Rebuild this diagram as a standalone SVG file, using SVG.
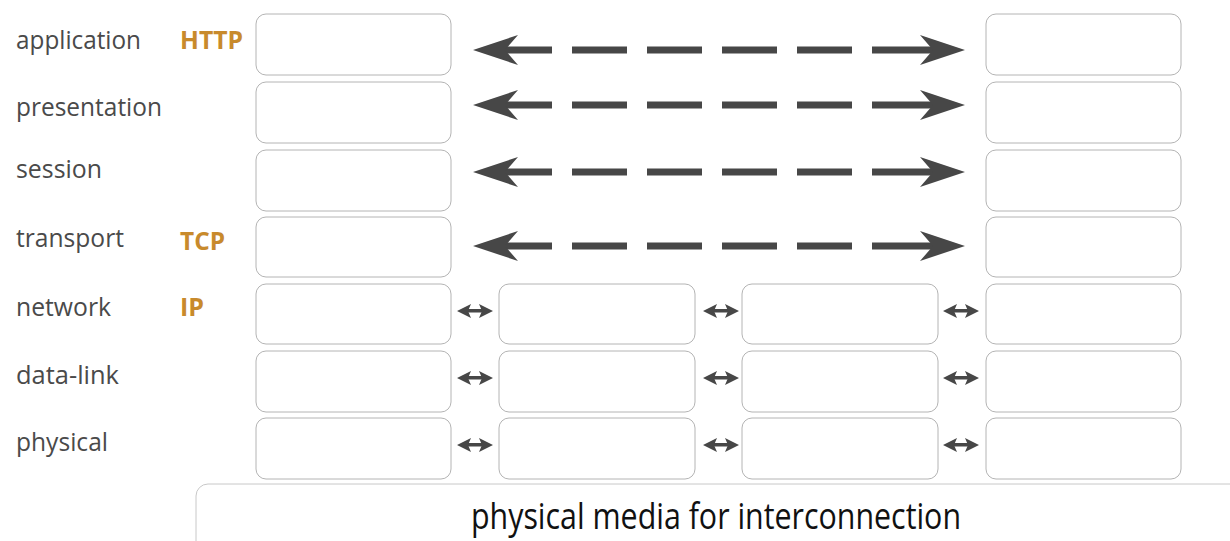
<svg xmlns="http://www.w3.org/2000/svg" xmlns:xlink="http://www.w3.org/1999/xlink" width="1230" height="541" viewBox="0 0 1230 541">
  <style>
    .box { fill: #ffffff; stroke: #b4b4b4; stroke-width: 1; }
    .media { fill: #ffffff; stroke: #c8c8c8; stroke-width: 1; }
    .layer { font-family: "Open Sans", "Noto Sans", "DejaVu Sans", sans-serif; font-size: 26px; fill: #4a4a4a; }
    .proto { font-family: "Open Sans", "Noto Sans", "DejaVu Sans", sans-serif; font-size: 25px; font-weight: bold; fill: #c88a2c; }
    .medialabel { font-family: "Open Sans", "Noto Sans", "DejaVu Sans", sans-serif; font-size: 36px; fill: #111111; }
    .dash { stroke: #474747; stroke-width: 7; fill: none; stroke-dasharray: 61 20 55 20 55 20 55 20 55 20 61 20; }
    .head { fill: #474747; }
  </style>
  <defs>
    <!-- large arrowhead pointing left, tip at origin -->
    <path id="bigHead" d="M0,0 L45,-15 L32,0 L45,15 Z"/>
    <!-- small double-headed link arrow, centred at origin -->
    <g id="link">
      <path d="M-18,0 L-4,-7 L-7,0 L-4,7 Z"/>
      <path d="M18,0 L4,-7 L7,0 L4,7 Z"/>
      <rect x="-9" y="-2" width="18" height="3.5"/>
    </g>
  </defs>

  <rect width="1230" height="541" fill="#ffffff"/>

  <!-- layer names -->
  <g id="labels">
    <text class="layer" x="16" y="49" textLength="125" lengthAdjust="spacingAndGlyphs">application</text>
    <text class="layer" x="16" y="116" textLength="146" lengthAdjust="spacingAndGlyphs">presentation</text>
    <text class="layer" x="16" y="178" textLength="86" lengthAdjust="spacingAndGlyphs">session</text>
    <text class="layer" x="16" y="247" textLength="108" lengthAdjust="spacingAndGlyphs">transport</text>
    <text class="layer" x="16" y="316" textLength="95" lengthAdjust="spacingAndGlyphs">network</text>
    <text class="layer" x="16" y="384" textLength="103" lengthAdjust="spacingAndGlyphs">data-link</text>
    <text class="layer" x="16" y="451" textLength="92" lengthAdjust="spacingAndGlyphs">physical</text>
    <text class="proto" x="180" y="49" textLength="63" lengthAdjust="spacingAndGlyphs">HTTP</text>
    <text class="proto" x="180" y="250" textLength="45" lengthAdjust="spacingAndGlyphs">TCP</text>
    <text class="proto" x="180" y="316" textLength="24" lengthAdjust="spacingAndGlyphs">IP</text>
  </g>

  <!-- end host A stack -->
  <g id="hostA">
    <rect class="box" x="256" y="14" width="195" height="61" rx="10"/>
    <rect class="box" x="256" y="82" width="195" height="61" rx="10"/>
    <rect class="box" x="256" y="150" width="195" height="61" rx="10"/>
    <rect class="box" x="256" y="217" width="195" height="60" rx="10"/>
    <rect class="box" x="256" y="284" width="195" height="60" rx="10"/>
    <rect class="box" x="256" y="351" width="195" height="61" rx="10"/>
    <rect class="box" x="256" y="418" width="195" height="61" rx="10"/>
  </g>

  <!-- intermediate node 1 -->
  <g id="router1">
    <rect class="box" x="499" y="284" width="196" height="60" rx="10"/>
    <rect class="box" x="499" y="351" width="196" height="61" rx="10"/>
    <rect class="box" x="499" y="418" width="196" height="61" rx="10"/>
  </g>

  <!-- intermediate node 2 -->
  <g id="router2">
    <rect class="box" x="742" y="284" width="196" height="60" rx="10"/>
    <rect class="box" x="742" y="351" width="196" height="61" rx="10"/>
    <rect class="box" x="742" y="418" width="196" height="61" rx="10"/>
  </g>

  <!-- end host B stack -->
  <g id="hostB">
    <rect class="box" x="986" y="14" width="195" height="61" rx="10"/>
    <rect class="box" x="986" y="82" width="195" height="61" rx="10"/>
    <rect class="box" x="986" y="150" width="195" height="61" rx="10"/>
    <rect class="box" x="986" y="217" width="195" height="60" rx="10"/>
    <rect class="box" x="986" y="284" width="195" height="60" rx="10"/>
    <rect class="box" x="986" y="351" width="195" height="61" rx="10"/>
    <rect class="box" x="986" y="418" width="195" height="61" rx="10"/>
  </g>

  <!-- shared medium -->
  <g id="media">
    <rect class="media" x="196" y="484" width="1060" height="80" rx="12"/>
    <text class="medialabel" x="471" y="529" textLength="490" lengthAdjust="spacingAndGlyphs">physical media for interconnection</text>
  </g>

  <g id="connectors">
    <!-- peer-to-peer (logical) links between end hosts -->
    <g>
      <line class="dash" x1="491" y1="50" x2="933" y2="50"/>
      <use xlink:href="#bigHead" class="head" transform="translate(473,50)"/>
      <use xlink:href="#bigHead" class="head" transform="translate(965,50) scale(-1,1)"/>
    </g>
    <g>
      <line class="dash" x1="491" y1="105" x2="933" y2="105"/>
      <use xlink:href="#bigHead" class="head" transform="translate(473,105)"/>
      <use xlink:href="#bigHead" class="head" transform="translate(965,105) scale(-1,1)"/>
    </g>
    <g>
      <line class="dash" x1="491" y1="172" x2="933" y2="172"/>
      <use xlink:href="#bigHead" class="head" transform="translate(473,172)"/>
      <use xlink:href="#bigHead" class="head" transform="translate(965,172) scale(-1,1)"/>
    </g>
    <g>
      <line class="dash" x1="491" y1="246" x2="933" y2="246"/>
      <use xlink:href="#bigHead" class="head" transform="translate(473,246)"/>
      <use xlink:href="#bigHead" class="head" transform="translate(965,246) scale(-1,1)"/>
    </g>

    <!-- hop-by-hop links -->
    <g fill="#474747">
      <use xlink:href="#link" transform="translate(475,311)"/>
      <use xlink:href="#link" transform="translate(721,311)"/>
      <use xlink:href="#link" transform="translate(961,311)"/>
      <use xlink:href="#link" transform="translate(475,378)"/>
      <use xlink:href="#link" transform="translate(721,378)"/>
      <use xlink:href="#link" transform="translate(961,378)"/>
      <use xlink:href="#link" transform="translate(475,445)"/>
      <use xlink:href="#link" transform="translate(721,445)"/>
      <use xlink:href="#link" transform="translate(961,445)"/>
    </g>
  </g>
</svg>
